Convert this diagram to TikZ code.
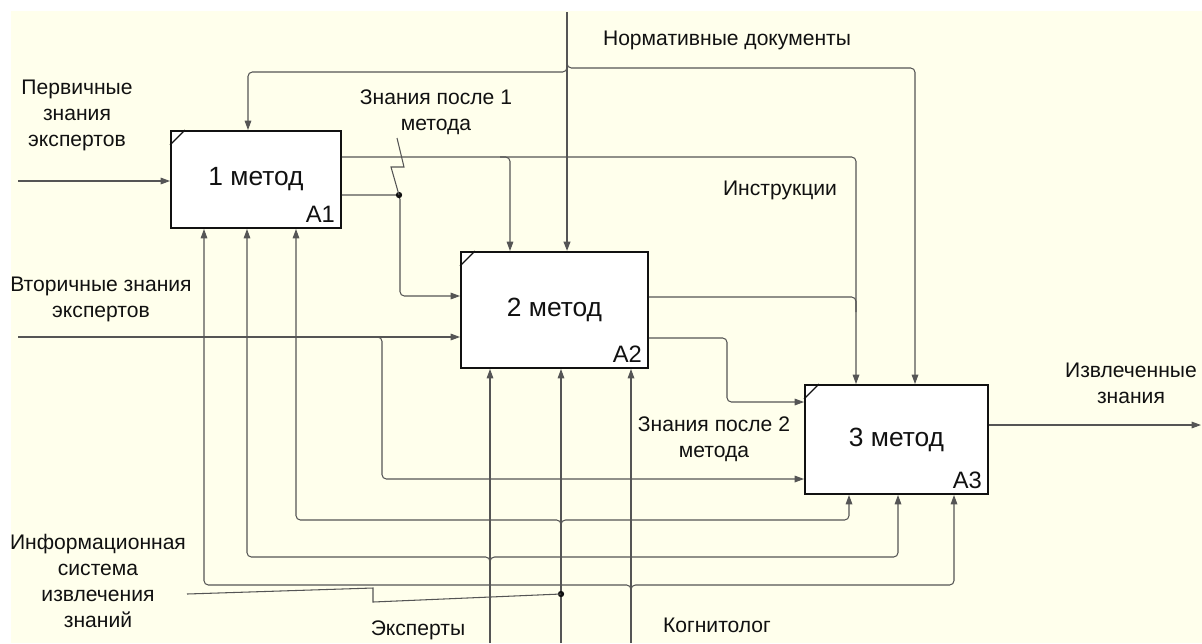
\documentclass[tikz,border=0pt]{standalone}
\usepackage{fontspec}
\setmainfont{Liberation Sans}
\usetikzlibrary{arrows.meta}
\definecolor{Ink}{HTML}{111111}
\definecolor{WireGray}{HTML}{555555}
\definecolor{PaperYellow}{HTML}{FFFFEC}
\tikzset{
  idefBox/.style={rectangle,draw=Ink,line width=1.1pt,fill=white,text=Ink,
    font=\fontsize{15}{18}\selectfont,inner sep=0pt},
  idefNum/.style={anchor=south east,text=Ink,font=\fontsize{13.5}{15}\selectfont,
    inner sep=0pt,xshift=-3.8pt,yshift=3.2pt},
  idefTick/.style={draw=Ink,line width=.7pt},
  arrowLabel/.style={font=\fontsize{12}{14.8}\selectfont,align=center,inner sep=0pt,text=Ink},
  wire/.style={draw=WireGray,line width=.6pt,rounded corners=2.5pt},
  flow/.style={wire,-{Triangle[length=5.4pt,width=3.8pt]}},
  ctlFlow/.style={flow,line width=1.1pt},
  squiggle/.style={draw=WireGray,line width=.6pt},
  tunnelDot/.style={circle,fill=Ink,inner sep=0pt,minimum size=3.6pt}
}
\begin{document}
\begin{tikzpicture}[x=0.02cm,y=-0.02cm]
  \useasboundingbox (0,0) rectangle (1202,643);
  \fill[PaperYellow] (11,11) rectangle (1202,643);
  % activity boxes
  \node[idefBox,minimum width=3.4cm,minimum height=1.94cm] (a1) at (256,179.5) {1 метод};
  \node[idefBox,minimum width=3.74cm,minimum height=2.32cm] (a2) at (554.5,310) {2 метод};
  \node[idefBox,minimum width=3.66cm,minimum height=2.18cm] (a3) at (896.5,439.5) {3 метод};
  \node[idefNum] (a1num) at (a1.south east) {A1};
  \node[idefNum] (a2num) at (a2.south east) {A2};
  \node[idefNum] (a3num) at (a3.south east) {A3};
  \foreach \b in {a1,a2,a3}{\draw[idefTick] ([yshift=-8.5pt]\b.north west) -- ([xshift=8.5pt]\b.north west);}
  % inputs
  \coordinate (in1) at (18,181);
  \coordinate (in2) at (18,337);
  \draw[flow] (in1) -- (in1 -| a1.west);
  \draw[flow] (in2) -- (in2 -| a2.west);
  \draw[flow] (372,337) -- (382,337) -- (382,479) -- (382,479 -| a3.west);
  % controls
  \coordinate (ctlTop) at (567,12);
  \draw[ctlFlow] (ctlTop) -- (ctlTop |- a2.north);
  \draw[flow] (567,60) -- (567,72) -- (248,72) -- (248,0 |- a1.north);
  \draw[flow] (567,58) -- (567,68) -- (915,68) -- (915,0 |- a3.north);
  % outputs
  \draw[flow] (a1.east |- 0,157) -- (856,157) -- (856,0 |- a3.north);
  \draw[flow] (500,157) -- (510,157) -- (510,0 |- a2.north);
  \draw[wire] (a2.east |- 0,297) -- (856,297) -- (856,312);
  \draw[flow] (a1.east |- 0,195) -- (400,195) -- (400,296) -- (400,296 -| a2.west);
  \draw[flow] (a2.east |- 0,338) -- (727,338) -- (727,402) -- (727,402 -| a3.west);
  \coordinate (out3) at (1201,425);
  \draw[flow] (a3.east |- out3) -- (out3);
  % mechanisms
  \coordinate (mech1) at (490,643);
  \coordinate (mech2) at (561,643);
  \coordinate (mech3) at (631,643);
  \foreach \m in {mech1,mech2,mech3}{\draw[flow] (\m) -- (\m |- a2.south);}
  \draw[flow] (490,566) -- (490,557) -- (247,557) -- (247,0 |- a1.south);
  \draw[flow] (490,566) -- (490,557) -- (898,557) -- (898,0 |- a3.south);
  \draw[flow] (561,529) -- (561,520) -- (296,520) -- (296,0 |- a1.south);
  \draw[flow] (561,529) -- (561,520) -- (849,520) -- (849,0 |- a3.south);
  \draw[flow] (631,594) -- (631,585) -- (204,585) -- (204,0 |- a1.south);
  \draw[flow] (631,594) -- (631,585) -- (954,585) -- (954,0 |- a3.south);
  % squiggles
  \node[tunnelDot] (dot1) at (399,195) {};
  \draw[squiggle] (397,138) -- (404,167) -- (391,167) -- (dot1.center);
  \node[tunnelDot] (dot2) at (561,594) {};
  \draw[squiggle] (187,594) -- (373,588) -- (373,602) -- (dot2.center);
  % labels
  \node[arrowLabel] (lblIn1) at (77,115) {Первичные\\знания\\экспертов};
  \node[arrowLabel] (lblIn2) at (101,299) {Вторичные знания\\экспертов};
  \node[arrowLabel] (lblCtl) at (727,40) {Нормативные документы};
  \node[arrowLabel] (lblInstr) at (780,190) {Инструкции};
  \node[arrowLabel] (lblK1) at (436,112) {Знания после 1\\метода};
  \node[arrowLabel] (lblK2) at (714,439) {Знания после 2\\метода};
  \node[arrowLabel] (lblOut) at (1131,383) {Извлеченные\\знания};
  \node[arrowLabel] (lblIs) at (98,581) {Информационная\\система\\извлечения\\знаний};
  \node[arrowLabel] (lblExp) at (418,630) {Эксперты};
  \node[arrowLabel] (lblCog) at (717,625) {Когнитолог};
\end{tikzpicture}
\end{document}
